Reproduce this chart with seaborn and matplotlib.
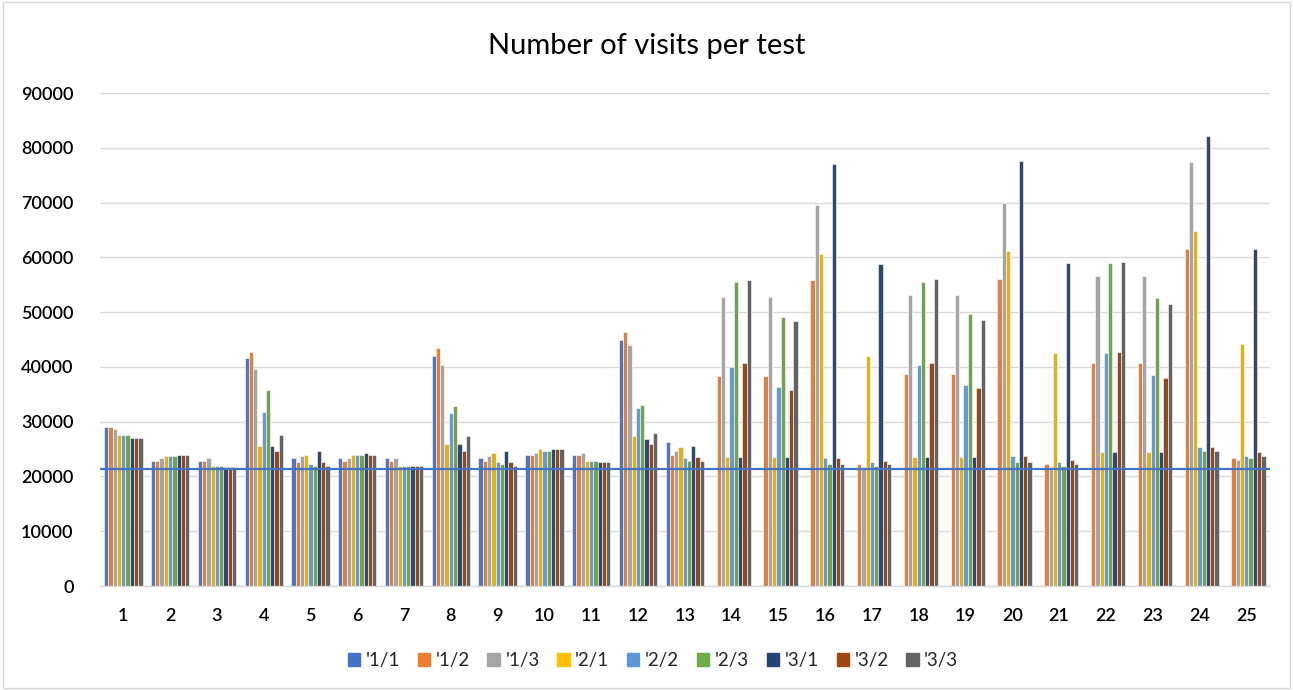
import numpy as np
import pandas as pd
import matplotlib
matplotlib.use("Agg")
import matplotlib.pyplot as plt
import seaborn as sns
from matplotlib.patches import Rectangle

# Test numbers on the x axis
tests = [str(i) for i in range(1, 26)]

# Series names (configurations)
series = ["'1/1", "'1/2", "'1/3", "'2/1", "'2/2", "'2/3", "'3/1", "'3/2", "'3/3"]

nan = np.nan
# Visits per test, one list per series (nan = no run)
s_1_1 = [29000, 22900, 22900, 41700, 23300, 23300, 23300, 42000, 23300, 24000, 24000, 45000, 26200,
         nan, nan, nan, nan, nan, nan, nan, nan, nan, nan, nan, nan]
s_1_2 = [29000, 22900, 22900, 42700, 22600, 22900, 22900, 43400, 22900, 24000, 24000, 46300, 24000,
         38400, 38400, 55800, 22300, 38700, 38700, 56100, 22300, 40800, 40800, 61500, 23400]
s_1_3 = [28600, 23300, 23300, 39700, 23700, 23300, 23300, 40400, 23700, 24300, 24300, 44000, 24600,
         52800, 52800, 69600, 21700, 53100, 53100, 70000, 21700, 56600, 56600, 77400, 23000]
s_2_1 = [27600, 23700, 22000, 25600, 24000, 24000, 22000, 25900, 24300, 25000, 22900, 27300, 25300,
         23600, 23600, 60700, 42000, 23600, 23600, 61200, 42500, 24400, 24400, 64800, 44100]
s_2_2 = [27600, 23700, 22000, 31800, 22300, 24000, 22000, 31500, 22600, 24600, 22900, 32500, 23300,
         40000, 36400, 23300, 22600, 40400, 36700, 23700, 22700, 42500, 38600, 25400, 23700]
s_2_3 = [27600, 23700, 22000, 35800, 22000, 24000, 22000, 32800, 22300, 24600, 22900, 33100, 22900,
         55500, 49200, 22300, 22000, 55500, 49600, 22700, 22000, 58900, 52600, 24700, 23400]
s_3_1 = [27000, 24000, 21700, 25600, 24600, 24300, 22000, 25900, 24600, 25000, 22600, 26900, 25600,
         23600, 23600, 77100, 58800, 23600, 23600, 77600, 58900, 24400, 24400, 82200, 61500]
s_3_2 = [27000, 24000, 21700, 24600, 22600, 24000, 22000, 24600, 22600, 25000, 22600, 25900, 23600,
         40700, 35800, 23300, 22900, 40700, 36100, 23700, 23000, 42800, 37900, 25400, 24400]
s_3_3 = [27000, 24000, 21700, 27600, 22000, 24000, 22000, 27300, 22000, 25000, 22600, 27900, 22900,
         55800, 48300, 22300, 22300, 56100, 48600, 22700, 22300, 59200, 51500, 24700, 23700]

# Reference level drawn as a horizontal line
baseline = 21400

colors = ["#4472C4", "#ED7D31", "#A5A5A5", "#FFC000", "#5B9BD5",
          "#70AD47", "#264478", "#9E480E", "#636363"]

values = [s_1_1, s_1_2, s_1_3, s_2_1, s_2_2, s_2_3, s_3_1, s_3_2, s_3_3]
rows = []
for name, vals in zip(series, values):
    for t, v in zip(tests, vals):
        rows.append({"test": t, "config": name, "visits": v})
df = pd.DataFrame(rows).dropna()

sns.set_theme(style="white")
font = ["Lato", "DejaVu Sans"]
plt.rcParams["font.family"] = font

fig = plt.figure(figsize=(12.93, 6.90), dpi=100)
fig.patches.append(Rectangle((0.002, 0.003), 0.996, 0.994, transform=fig.transFigure,
                             fill=False, edgecolor="#D9D9D9", linewidth=1.0))
ax = fig.add_axes([0.0773, 0.1507, 0.9047, 0.7145])

sns.barplot(data=df, x="test", y="visits", hue="config", order=tests, hue_order=series,
            palette=colors, width=0.82, dodge=True, errorbar=None, ax=ax,
            edgecolor="white", linewidth=0.4, zorder=2)

ax.axhline(baseline, color="#4472C4", linewidth=1.6, zorder=3)

ax.set_ylim(0, 90000)
ax.set_xlim(-0.5, 24.5)
ax.set_yticks(np.arange(0, 90001, 10000))
ax.yaxis.grid(True, color="#D9D9D9", linewidth=1.0, zorder=0)
ax.set_axisbelow(True)
for side in ["top", "right", "left"]:
    ax.spines[side].set_visible(False)
ax.spines["bottom"].set_color("#D9D9D9")
ax.spines["bottom"].set_linewidth(1.0)
ax.tick_params(axis="both", length=0, labelsize=13, colors="black")
ax.tick_params(axis="y", pad=19)
ax.tick_params(axis="x", pad=16)
for lab in ax.get_xticklabels() + ax.get_yticklabels():
    lab.set_fontweight("semibold")
ax.set_xlabel("")
ax.set_ylabel("")

fig.text(0.5, 0.933, "Number of visits per test", ha="center", va="center",
         fontsize=21, color="black")

ax.get_legend().remove()
handles = [Rectangle((0, 0), 1, 1, color=c) for c in colors]
fig.legend(handles, series, loc="center", bbox_to_anchor=(0.505, 0.043), ncol=9,
           frameon=False, fontsize=13.5, handlelength=0.65, handleheight=0.65,
           handletextpad=0.3, columnspacing=0.95)

fig.savefig("out.png", dpi=100)
